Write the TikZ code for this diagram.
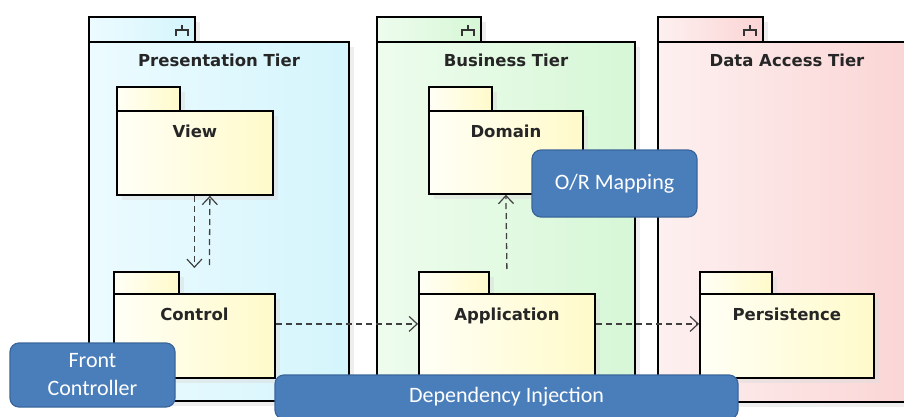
\documentclass[tikz,border=0pt]{standalone}
\usepackage{fontspec}
\setmainfont{DejaVu Sans}
\newfontfamily\calibri{Carlito}
\usetikzlibrary{positioning, arrows.meta, shadows}

\definecolor{presA}{HTML}{ECFBFF}
\definecolor{presB}{HTML}{D4F5FC}
\definecolor{busA}{HTML}{EEFCEE}
\definecolor{busB}{HTML}{D6F7D6}
\definecolor{dataA}{HTML}{FDF0F0}
\definecolor{dataB}{HTML}{FBD4D4}
\definecolor{pkgA}{HTML}{FFFFF6}
\definecolor{pkgB}{HTML}{FFFACA}
\definecolor{blueF}{HTML}{4A7EBB}
\definecolor{blueD}{HTML}{3A659A}

\begin{document}
\begin{tikzpicture}[x=1pt,y=-1pt,
	box/.style={draw,anchor=north west,inner sep=0pt,
		drop shadow={shadow xshift=5pt,shadow yshift=-5pt,fill=black!13}},
	tier/.style={box,line width=2pt},
	pkg/.style={box,line width=1.8pt,left color=pkgA,right color=pkgB},
	title/.style={font=\bfseries\fontsize{16.5}{19}\selectfont,text=black!85},
	dep/.style={dash pattern=on 6pt off 4pt,line width=1.3pt,draw=black!75,
		-{Straight Barb[length=8pt,width=15pt,line width=1.2pt]}},
	callout/.style={draw=blueD,fill=blueF,line width=1.2pt,rounded corners=9pt,
		text=white,font=\calibri\fontsize{22}{28}\selectfont,align=center,inner sep=0pt}]
	\useasboundingbox (0,0) rectangle (904,417);
	\clip (0,0) rectangle (904,417);

	% tiers
	\node[tier,left color=presA,right color=presB,minimum width=106pt,minimum height=25pt] (presTab) at (88,16) {};
	\node[tier,left color=presA,right color=presB,minimum width=260pt,minimum height=359pt,
		label={[title,anchor=north,yshift=-9pt]north:Presentation Tier}] (pres) at (88,41) {};
	\node[tier,left color=busA,right color=busB,minimum width=104pt,minimum height=25pt] (busTab) at (376,16) {};
	\node[tier,left color=busA,right color=busB,minimum width=258pt,minimum height=359pt,
		label={[title,anchor=north,yshift=-9pt]north:Business Tier}] (bus) at (376,41) {};
	\node[tier,left color=dataA,right color=dataB,minimum width=105pt,minimum height=25pt] (dataTab) at (657,16) {};
	\node[tier,left color=dataA,right color=dataB,minimum width=258pt,minimum height=360pt,
		label={[title,anchor=north,yshift=-9pt]north:Data Access Tier}] (data) at (657,41) {};
	\foreach \t in {presTab,busTab,dataTab}{
		\draw[line width=1.2pt,black!80] ([shift={(-20,20)}]\t.north east) |- ++(12,-6) -- ++(0,6);
		\draw[line width=1.2pt,black!80] ([shift={(-14,14)}]\t.north east) -- ++(0,-5);
	}

	% packages
	\begin{scope}[every label/.style={title,anchor=north,yshift=-11.5pt}]
		\node[pkg,minimum width=63pt,minimum height=24pt] at (116,86) {};
		\node[pkg,minimum width=156pt,minimum height=84pt,label=north:View] (view) at (116,110) {};
		\node[pkg,minimum width=65pt,minimum height=22pt] at (113,271) {};
		\node[pkg,minimum width=161pt,minimum height=84pt,label=north:Control] (ctrl) at (113,293) {};
		\node[pkg,minimum width=63pt,minimum height=24pt] at (428,86) {};
		\node[pkg,minimum width=154pt,minimum height=83pt,label=north:Domain] (dom) at (428,110) {};
		\node[pkg,minimum width=70pt,minimum height=22pt] at (418,271) {};
		\node[pkg,minimum width=176pt,minimum height=84pt,label=north:Application] (app) at (418,293) {};
		\node[pkg,minimum width=72pt,minimum height=22pt] at (699,271) {};
		\node[pkg,minimum width=174pt,minimum height=84pt,label=north:Persistence] (pers) at (699,293) {};
	\end{scope}

	% dependencies
	\draw[dep] ([xshift=-0.5pt]view.south) -- ([yshift=25pt]ctrl.north);
	\draw[dep] ([xshift=15pt,yshift=28pt]ctrl.north) -- ([xshift=15pt]view.south);
	\draw[dep] ([yshift=24pt]app.north) -- (dom.south);
	\draw[dep] ([yshift=12pt]ctrl.east) -- ([yshift=12pt]app.west);
	\draw[dep] ([yshift=12pt]app.east) -- ([yshift=12pt]pers.west);

	% patterns
	\node[callout,minimum width=165pt,minimum height=64pt] (fc) at (92.5,375) {Front\\Controller};
	\node[callout,minimum width=463pt,minimum height=44pt] (di) at (506.5,397) {Dependency Injection};
	\node[callout,minimum width=165pt,minimum height=67pt] (orm) at (614.5,183.5) {O/R Mapping};
\end{tikzpicture}
\end{document}
